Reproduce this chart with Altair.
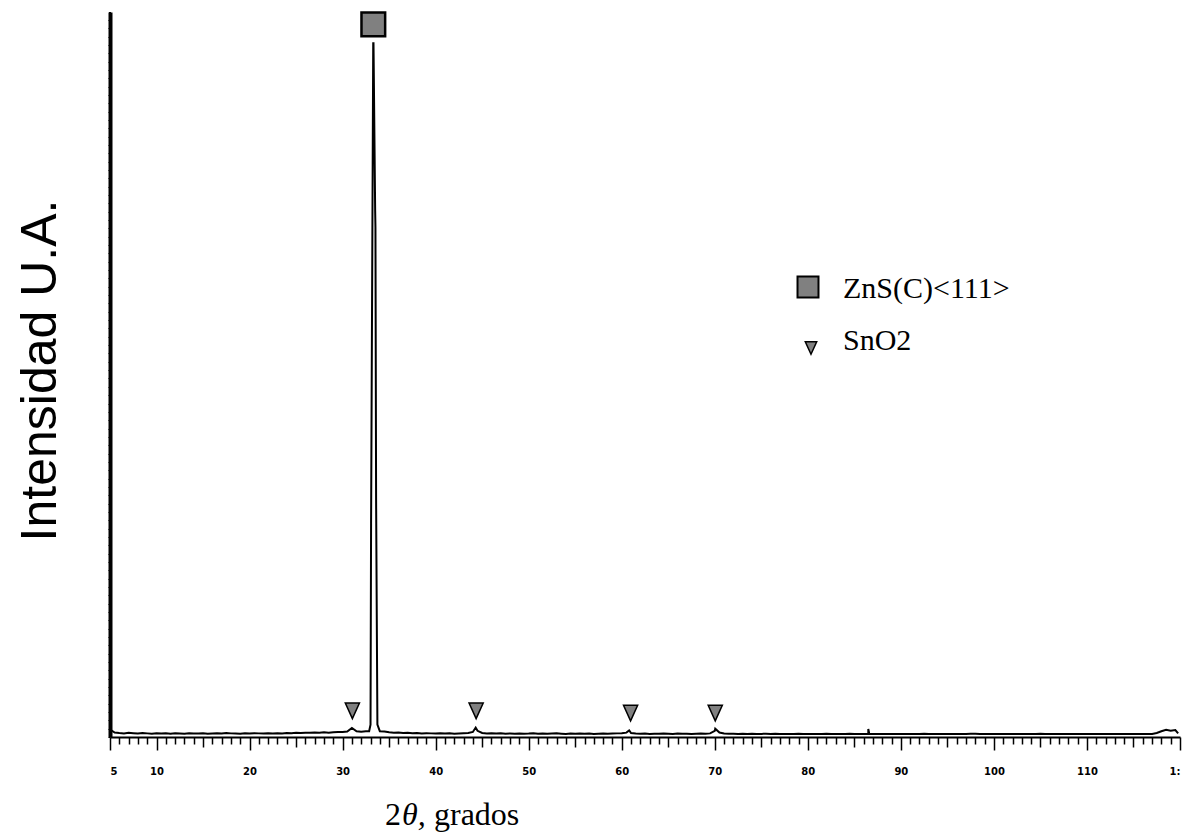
import altair as alt
import pandas as pd

# Scan grid: 2-theta from 5.5 to 119.5 in 0.5 degree steps
theta_start = 5.5
theta_step = 0.5
base_intensity = [
    0.62, 0.55, 0.50, 0.58, 0.52, 0.47, 0.55, 0.50, 0.45,
    0.52, 0.48, 0.50, 0.46, 0.53, 0.49, 0.45, 0.51, 0.48, 0.47, 0.50, 0.46, 0.49, 0.52, 0.47, 0.55, 0.50, 0.48, 0.46, 0.50,
    0.48, 0.52, 0.50, 0.47, 0.51, 0.49, 0.53, 0.50, 0.55, 0.52, 0.58, 0.54, 0.60, 0.57, 0.62, 0.58, 0.64, 0.60, 0.66, 0.70,
    0.68, 0.75, 1.25, 0.80, 0.72, 0.78, 1.70, 72.5, 0.80, 0.75, 0.65, 0.60, 0.62, 0.55, 0.58, 0.52, 0.55, 0.50, 0.53, 0.50,
    0.48, 0.52, 0.47, 0.50, 0.46, 0.49, 0.53, 0.56, 0.70, 0.85, 0.55, 0.50, 0.52, 0.47, 0.50, 0.46, 0.49, 0.45, 0.48, 0.46,
    0.47, 0.50, 0.45, 0.48, 0.44, 0.47, 0.50, 0.46, 0.43, 0.47, 0.45, 0.49, 0.44, 0.47, 0.43, 0.46, 0.48, 0.44, 0.47, 0.50,
    0.52, 0.60, 0.55, 0.48, 0.45, 0.47, 0.43, 0.46, 0.44, 0.48, 0.45, 0.43, 0.47, 0.44, 0.46, 0.43, 0.45, 0.48, 0.44, 0.50,
    0.85, 0.62, 0.48, 0.44, 0.46, 0.43, 0.45, 0.42, 0.44, 0.41, 0.43, 0.45, 0.41, 0.44, 0.42, 0.40, 0.43, 0.41, 0.44, 0.42,
    0.41, 0.43, 0.40, 0.42, 0.44, 0.41, 0.43, 0.40, 0.42, 0.44, 0.41, 0.43, 0.40, 0.42, 0.41, 0.43, 0.40, 0.42, 0.41, 0.43,
    0.41, 0.43, 0.40, 0.42, 0.41, 0.44, 0.40, 0.42, 0.43, 0.41, 0.42, 0.40, 0.43, 0.41, 0.42, 0.44, 0.45, 0.43, 0.41, 0.42,
    0.40, 0.42, 0.41, 0.43, 0.40, 0.42, 0.41, 0.43, 0.40, 0.42, 0.44, 0.41, 0.43, 0.40, 0.42, 0.41, 0.43, 0.40, 0.42, 0.41,
    0.42, 0.40, 0.43, 0.41, 0.42, 0.40, 0.43, 0.41, 0.42, 0.40, 0.43, 0.41, 0.42, 0.40, 0.43, 0.55, 0.80, 1.00, 0.85, 0.95,
]

# Extra points off the grid: the start spike, the ZnS(111) reflection and small peaks
detail_theta = [5.0, 5.05, 32.85, 33.06, 33.29, 33.32, 33.53, 33.60, 33.74,
                44.3, 60.8, 70.05, 86.5, 86.6, 119.8]
detail_intensity = [100.0, 1.0, 0.80, 29.5, 95.7, 95.7, 70.3, 32.7, 1.7,
                    1.30, 0.90, 1.15, 1.10, 0.45, 0.50]

# Phase markers
zns_theta = [33.3]
zns_level = [98.3]
sno2_theta = [31.05, 44.35, 60.95, 70.05]
sno2_level = [3.6, 3.6, 3.3, 3.3]

legend_labels = ["ZnS(C)<111>", "SnO2"]

x_tick_values = list(range(5, 121))
x_label_text = {5: "5", 10: "10", 20: "20", 30: "30", 40: "40", 50: "50", 60: "60",
                70: "70", 80: "80", 90: "90", 100: "100", 110: "110", 120: "1:"}
y_tick_values = [round(i * 1.15, 2) for i in range(87)]

grid_theta = [theta_start + i * theta_step for i in range(len(base_intensity))]
scan = pd.DataFrame({
    "theta": grid_theta + detail_theta,
    "intensity": base_intensity + detail_intensity,
}).sort_values("theta")

label_expr = " : ".join(
    f"datum.value === {k} ? '{v}'" for k, v in x_label_text.items()
) + " : ''"

x_scale = alt.Scale(domain=[5, 120], nice=False, zero=False)
y_scale = alt.Scale(domain=[0, 100], nice=False)

GRAY = "#808080"
SERIF = "Liberation Serif"

line = alt.Chart(scan).mark_line(color="black", strokeWidth=2, interpolate="linear").encode(
    x=alt.X("theta:Q", scale=x_scale, axis=alt.Axis(
        values=x_tick_values, tickCount=500,
        tickSize={"condition": [
            {"test": "datum.value % 10 === 0 || datum.value === 5", "value": 13},
            {"test": "datum.value % 5 === 0", "value": 10},
        ], "value": 7},
        tickColor="black", tickWidth=1.5,
        domainColor="black", domainWidth=2,
        labelExpr=label_expr, labelOverlap=False, labelPadding=16, labelBound=False,
        labelFont="DejaVu Sans", labelFontSize=10, labelFontWeight="bold", labelColor="black",
        grid=False, title=None,
    )),
    y=alt.Y("intensity:Q", scale=y_scale, axis=alt.Axis(
        values=y_tick_values, tickCount=500, tickSize=2, tickColor="black", tickWidth=1,
        domainColor="black", domainWidth=4, labels=False, grid=False,
        title="Intensidad U.A.", titleFont="Liberation Sans", titleFontSize=50,
        titleFontWeight="normal", titleColor="black", titleAngle=270,
        titleX=-70, titleY=358, titleAlign="center", titleBaseline="middle",
    )),
)

zns = alt.Chart(pd.DataFrame({"theta": zns_theta, "intensity": zns_level})).mark_point(
    shape="square", filled=True, fill=GRAY, stroke="black", strokeWidth=2.5, size=560, opacity=1
).encode(x=alt.X("theta:Q", scale=x_scale), y=alt.Y("intensity:Q", scale=y_scale))

TRI = "M-1,-1.1L1,-1.1L0,1.1Z"
sno2 = alt.Chart(pd.DataFrame({"theta": sno2_theta, "intensity": sno2_level})).mark_point(
    shape=TRI, filled=True, fill=GRAY, stroke="black", strokeWidth=1.5, size=200, opacity=1
).encode(x=alt.X("theta:Q", scale=x_scale), y=alt.Y("intensity:Q", scale=y_scale))

legend_df = pd.DataFrame({"label": legend_labels})

leg_square = alt.Chart(legend_df.iloc[[0]]).mark_point(
    shape="square", filled=True, fill=GRAY, stroke="black", strokeWidth=2, size=440, opacity=1
).encode(x=alt.value(698), y=alt.value(275))
leg_tri = alt.Chart(legend_df.iloc[[1]]).mark_point(
    shape=TRI, filled=True, fill=GRAY, stroke="black", strokeWidth=1.5, size=130, opacity=1
).encode(x=alt.value(701), y=alt.value(336))
leg_text1 = alt.Chart(legend_df.iloc[[0]]).mark_text(
    font=SERIF, fontSize=30, align="left", baseline="middle", color="black"
).encode(x=alt.value(733), y=alt.value(277), text="label:N")
leg_text2 = alt.Chart(legend_df.iloc[[1]]).mark_text(
    font=SERIF, fontSize=30, align="left", baseline="middle", color="black"
).encode(x=alt.value(733), y=alt.value(329), text="label:N")

# x-axis title with an italic theta
xt_df = pd.DataFrame({"a": ["2"], "b": ["θ,"], "c": ["grados"]})
XT_Y = 803
xt_2 = alt.Chart(xt_df).mark_text(font=SERIF, fontSize=32, align="right", baseline="middle",
                                  color="black").encode(x=alt.value(291), y=alt.value(XT_Y), text="a:N")
xt_th = alt.Chart(xt_df).mark_text(font=SERIF, fontSize=32, fontStyle="italic", align="left",
                                   baseline="middle", color="black").encode(x=alt.value(292), y=alt.value(XT_Y), text="b:N")
xt_gr = alt.Chart(xt_df).mark_text(font=SERIF, fontSize=32, align="left", baseline="middle",
                                   color="black").encode(x=alt.value(324), y=alt.value(XT_Y), text="c:N")

chart = alt.layer(
    line, zns, sno2, leg_square, leg_tri, leg_text1, leg_text2, xt_2, xt_th, xt_gr
).properties(
    width=1070, height=725,
    autosize=alt.AutoSizeParams(type="none"),
    padding={"left": 110, "top": 12, "right": 10, "bottom": 101},
    background="white",
).configure_view(stroke=None)

chart.save("out.html", embed_options={"renderer": "svg", "actions": False})
